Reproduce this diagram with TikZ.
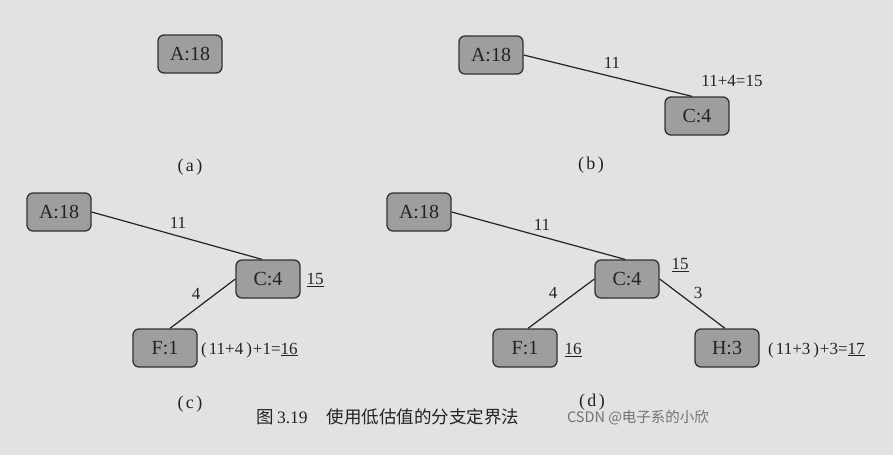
\documentclass[tikz,border=0pt]{standalone}
\usepackage{fontspec}
\setmainfont{Liberation Serif}
\newfontfamily\cjk{Noto Sans CJK SC}
\definecolor{paper}{RGB}{226,226,226}
\definecolor{boxfill}{RGB}{158,158,158}
\definecolor{boxdraw}{RGB}{50,50,50}
\definecolor{ink}{RGB}{35,35,35}
\definecolor{wmark}{RGB}{115,115,115}
\newcommand{\sublab}[1]{(\kern2.5pt#1\kern2.5pt)}
\newcommand{\sumtxt}[3]{(\kern2pt#1\kern3pt)\kern1pt#2=\underline{#3}}
\begin{document}
\begin{tikzpicture}[x=1pt,y=-1pt,
  tnode/.style={draw=boxdraw, fill=boxfill, rounded corners=6pt, line width=1.3pt,
    minimum width=64pt, minimum height=38pt, inner sep=0pt,
    font=\fontsize{20}{24}\selectfont, text=ink},
  edge/.style={draw=ink, line width=1.2pt},
  lbl/.style={font=\fontsize{17}{20}\selectfont, text=ink, inner sep=0pt},
  sublbl/.style={font=\fontsize{18}{20}\selectfont, text=ink, inner sep=0pt},
  caption/.style={font=\fontsize{17.5}{21}\selectfont, text=ink, inner sep=0pt},
  wm/.style={font=\cjk\fontsize{14.5}{17}\selectfont, text=wmark, inner sep=0pt}
]
\fill[paper] (0,0) rectangle (893,455);
\useasboundingbox (0,0) rectangle (893,455);

% (a)
\node[tnode] (aA) at (190,54) {A:18};
\node[sublbl] (alab) at (190,167) {\sublab{a}};

% (b)
\node[tnode] (bA) at (491,55) {A:18};
\node[tnode] (bC) at (697,116) {C:4};
\draw[edge] (bA.east) -- ([xshift=-5pt]bC.north);
\node[lbl] (b11) at (612,63) {11};
\node[lbl] (bsum) at (732,81) {11+4=15};
\node[sublbl] (blab) at (591,165) {\sublab{b}};

% (c)
\node[tnode] (cA) at (59,212) {A:18};
\node[tnode] (cC) at (268,279) {C:4};
\node[tnode] (cF) at (165,348) {F:1};
\draw[edge] (cA.east) -- ([xshift=-6pt]cC.north);
\draw[edge] (cC.west) -- ([xshift=5pt]cF.north);
\node[lbl] (c11) at (178,223) {11};
\node[lbl] (c4) at (196,294) {4};
\node[lbl] (c15) at (315,280) {\underline{15}};
\node[lbl, anchor=west] (csum) at (201,350) {\sumtxt{11+4}{+1}{16}};
\node[sublbl] (clab) at (190,404) {\sublab{c}};

% (d)
\node[tnode] (dA) at (419,212) {A:18};
\node[tnode] (dC) at (627,279) {C:4};
\node[tnode] (dF) at (525,348) {F:1};
\node[tnode] (dH) at (727,348) {H:3};
\draw[edge] (dA.east) -- ([xshift=-2pt]dC.north);
\draw[edge] (dC.west) -- ([xshift=3pt]dF.north);
\draw[edge] (dC.east) -- ([xshift=-2pt]dH.north);
\node[lbl] (d11) at (542,225) {11};
\node[lbl] (d15) at (680,265) {\underline{15}};
\node[lbl] (d4) at (553,293) {4};
\node[lbl] (d3) at (698,293) {3};
\node[lbl] (d16) at (573,350) {\underline{16}};
\node[lbl, anchor=west] (dsum) at (768,350) {\sumtxt{11+3}{+3}{17}};
\node[sublbl] (dlab) at (592,402) {\sublab{d}};

% caption
\node[caption] (cap) at (388,417) {{\cjk 图}\,3.19\hspace{1.1em}{\cjk 使用低估值的分支定界法}};
\node[wm] (wmk) at (638,418) {CSDN @电子系的小欣};
\end{tikzpicture}
\end{document}
